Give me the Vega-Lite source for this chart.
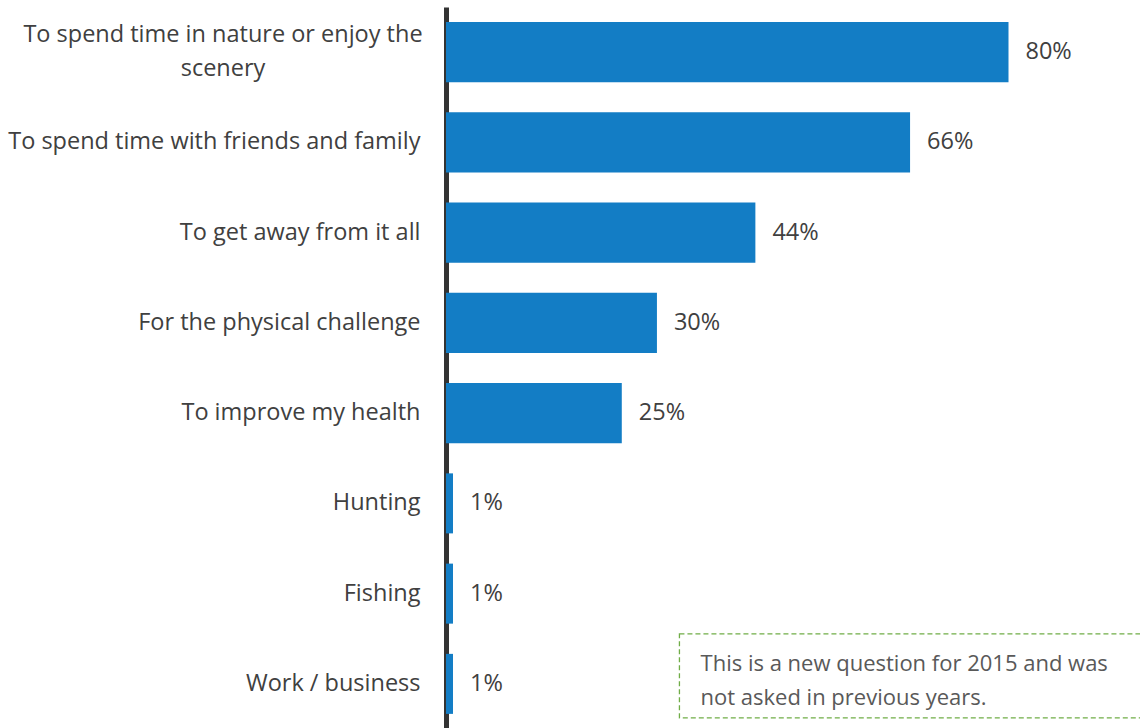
{
  "$schema": "https://vega.github.io/schema/vega-lite/v6.json",
  "autosize": {"type": "none"},
  "padding": {"left": 446, "top": 7, "right": 19, "bottom": 0},
  "width": 675,
  "height": 722,
  "background": "white",
  "config": {"view": {"stroke": null}, "font": "Open Sans"},
  "datasets": {
    "reasons": [
      {"reason": "To spend time in nature or enjoy the scenery", "pct": 0.80},
      {"reason": "To spend time with friends and family", "pct": 0.66},
      {"reason": "To get away from it all", "pct": 0.44},
      {"reason": "For the physical challenge", "pct": 0.30},
      {"reason": "To improve my health", "pct": 0.25},
      {"reason": "Hunting", "pct": 0.01},
      {"reason": "Fishing", "pct": 0.01},
      {"reason": "Work / business", "pct": 0.01}
    ],
    "wrapped": [
      {"reason": "To spend time in nature or enjoy the scenery", "lines": ["To spend time in nature or enjoy the", "scenery"]}
    ],
    "note": [
      {"reason": "Work / business", "x0": 0.332, "x1": 0.995, "tx": 0.362, "lines": ["This is a new question for 2015 and was", "not asked in previous years."]}
    ]
  },
  "layer": [
    {
      "data": {"name": "reasons"},
      "mark": {"type": "bar", "color": "#137DC5"},
      "encoding": {
        "y": {
          "field": "reason", "type": "nominal", "sort": null,
          "scale": {"paddingInner": 0.335, "paddingOuter": 0.1675},
          "axis": {
            "title": null, "ticks": false, "domain": true, "domainColor": "#333333", "domainWidth": 5,
            "labelExpr": "datum.label == 'To spend time in nature or enjoy the scenery' ? '' : datum.label",
            "labelFontSize": 23.5, "labelColor": "#404040",
            "labelPadding": 26, "labelLimit": 600, "labelFont": "Open Sans"
          }
        },
        "x": {
          "field": "pct", "type": "quantitative",
          "scale": {"domain": [0, 0.96], "nice": false},
          "axis": null
        }
      }
    },
    {
      "data": {"name": "reasons"},
      "mark": {"type": "text", "align": "left", "baseline": "middle", "dx": 17, "fontSize": 23.5, "color": "#404040"},
      "encoding": {
        "y": {"field": "reason", "type": "nominal", "sort": null},
        "x": {"field": "pct", "type": "quantitative"},
        "text": {"field": "pct", "type": "quantitative", "format": ".0%"}
      }
    },
    {
      "data": {"name": "wrapped"},
      "mark": {"type": "text", "align": "center", "baseline": "middle", "dx": -223, "dy": -17, "lineHeight": 34, "fontSize": 23.5, "color": "#404040"},
      "encoding": {
        "y": {"field": "reason", "type": "nominal", "sort": null},
        "x": {"datum": 0, "type": "quantitative"},
        "text": {"field": "lines"}
      }
    },
    {
      "data": {"name": "note"},
      "mark": {"type": "bar", "fill": null, "fillOpacity": 0, "stroke": "#70AD47", "strokeWidth": 1.3, "strokeDash": [5, 3], "height": 84, "yOffset": -8},
      "encoding": {
        "y": {"field": "reason", "type": "nominal", "sort": null},
        "x": {"field": "x0", "type": "quantitative"},
        "x2": {"field": "x1"}
      }
    },
    {
      "data": {"name": "note"},
      "mark": {"type": "text", "align": "left", "baseline": "middle", "fontSize": 22, "lineHeight": 34, "color": "#595959", "dy": -20},
      "encoding": {
        "y": {"field": "reason", "type": "nominal", "sort": null},
        "x": {"field": "tx", "type": "quantitative"},
        "text": {"field": "lines"}
      }
    }
  ]
}
